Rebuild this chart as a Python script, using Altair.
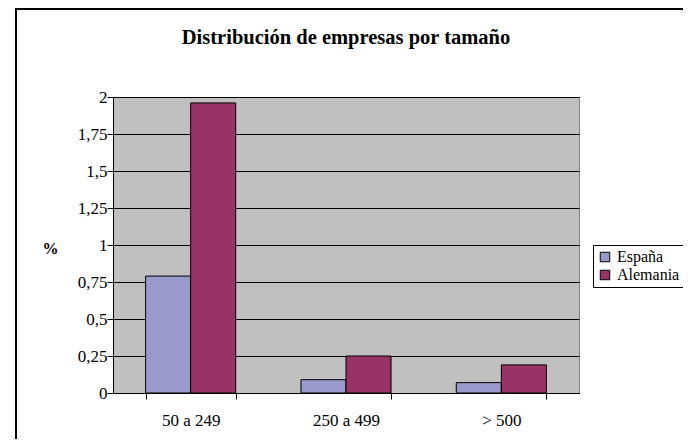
import altair as alt
import pandas as pd

categories = ["50 a 249", "250 a 499", "> 500"]
espana = [0.79, 0.09, 0.07]
alemania = [1.96, 0.25, 0.19]
series = ["España", "Alemania"]
colors = ["#9999CC", "#993366"]
y_ticks = [0, 0.25, 0.5, 0.75, 1, 1.25, 1.5, 1.75, 2]

rows = []
for c, e, a in zip(categories, espana, alemania):
    rows.append({"cat": c, "serie": "España", "val": e})
    rows.append({"cat": c, "serie": "Alemania", "val": a})
df = pd.DataFrame(rows)

FONT = "Liberation Serif"
W, H = 466, 296

bars = alt.Chart(df).mark_bar(stroke="black", strokeWidth=1).encode(
    x=alt.X("cat:N", sort=categories, title=None,
            scale=alt.Scale(paddingInner=0.42, paddingOuter=0.21),
            axis=alt.Axis(labelAngle=0, labelFont=FONT, labelFontSize=17, labelColor="black",
                          tickBand="extent", tickSize=6, tickColor="black", domainColor="black",
                          labelPadding=13, grid=False)),
    xOffset=alt.XOffset("serie:N", sort=series, scale=alt.Scale(paddingInner=0, paddingOuter=0)),
    y=alt.Y("val:Q", title="%", scale=alt.Scale(domain=[0, 2], nice=False),
            axis=alt.Axis(values=y_ticks, labelExpr="replace(toString(datum.value), '.', ',')",
                          labelFont=FONT, labelFontSize=17, labelColor="black", labelPadding=0,
                          tickSize=6, tickColor="black", domainColor="black",
                          grid=True, gridColor="black", gridWidth=1,
                          titleFont=FONT, titleFontSize=16, titleFontWeight="bold", titleAngle=0,
                          titleAlign="center", titleBaseline="middle", titleX=-63, titleY=151)),
    color=alt.Color("serie:N", sort=series, scale=alt.Scale(domain=series, range=colors),
                    legend=alt.Legend(title=None, orient="none", legendX=480, legendY=148,
                                      labelFont=FONT, labelFontSize=16, labelColor="black",
                                      symbolType="square", symbolSize=90, symbolStrokeColor="black",
                                      symbolStrokeWidth=1, strokeColor="black", fillColor="white",
                                      padding=4, rowPadding=2, labelOffset=4, cornerRadius=0)),
)

border = alt.Chart(pd.DataFrame({"k": [0]})).mark_rect(
    fill=None, stroke="black", strokeWidth=2, clip=False
).encode(x=alt.value(-97), x2=alt.value(700), y=alt.value(-88), y2=alt.value(500))

chart = alt.layer(border, bars).properties(
    width=W, height=H,
    background="white",
    title=alt.TitleParams("Distribución de empresas por tamaño", font=FONT, fontSize=20.5,
                          fontWeight="bold", color="black", anchor="middle", frame="group",
                          offset=-40),
    autosize=alt.AutoSizeParams(type="none"),
    padding={"left": 105, "top": 89, "right": 104, "bottom": 46},
).configure_view(fill="#C0C0C0", stroke="#808080", strokeWidth=1)

chart.save("out.html", embed_options={"renderer": "svg", "actions": False})
